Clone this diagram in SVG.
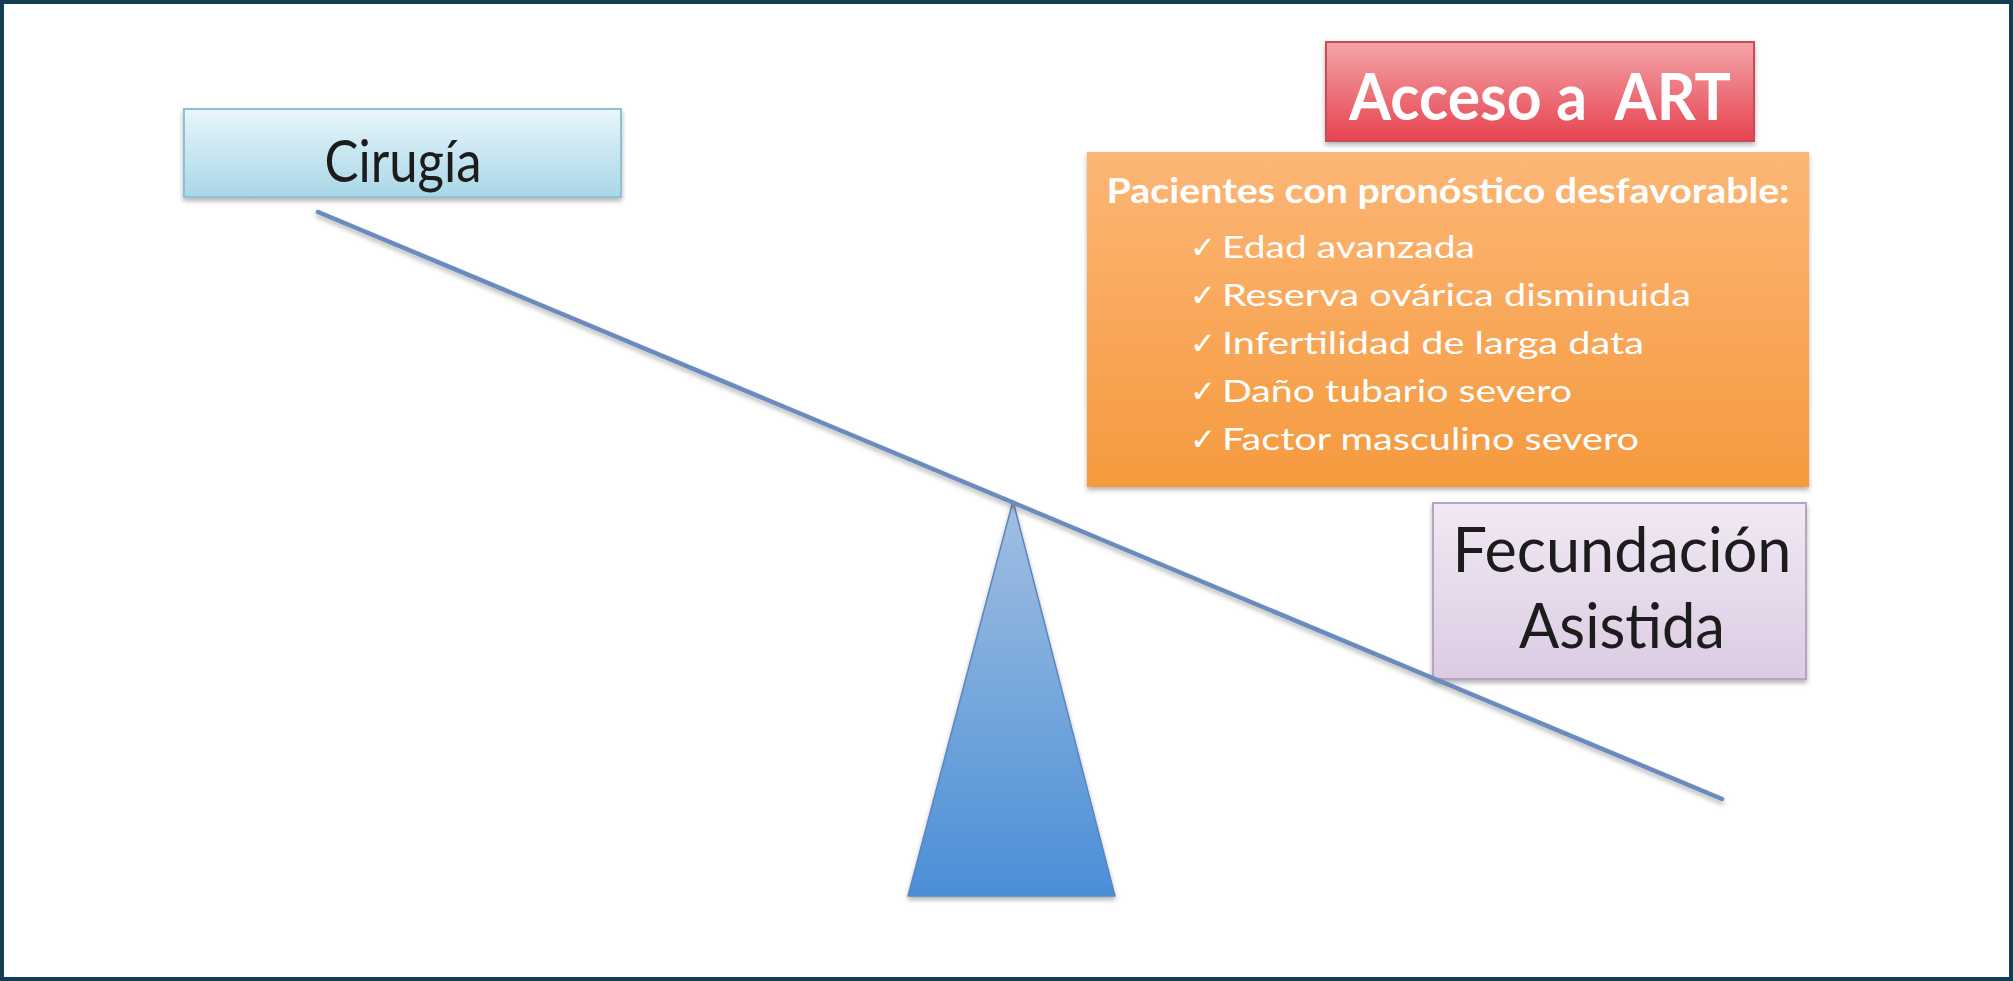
<svg xmlns="http://www.w3.org/2000/svg" width="2013" height="981" viewBox="0 0 2013 981">
<style>
.lato{font-family:Lato,"Open Sans","Liberation Sans",sans-serif}
.white{fill:#ffffff}
.dark{fill:#1c1c1c}
.ck{font-family:"DejaVu Sans",sans-serif;font-size:31px;font-weight:bold;fill:#ffffff}
.bl{font-family:Lato,"Open Sans","Liberation Sans",sans-serif;font-size:31px;fill:#ffffff}
</style>
<defs>
<linearGradient id="gCir" x1="0" y1="0" x2="0" y2="1">
<stop offset="0" stop-color="#e9f6fb"/><stop offset="1" stop-color="#a8d7e7"/>
</linearGradient>
<linearGradient id="gRed" x1="0" y1="0" x2="0" y2="1">
<stop offset="0" stop-color="#f3a4a9"/><stop offset="1" stop-color="#e7434f"/>
</linearGradient>
<linearGradient id="gOr" x1="0" y1="0" x2="0" y2="1">
<stop offset="0" stop-color="#fcb676"/><stop offset="1" stop-color="#f59a3e"/>
</linearGradient>
<linearGradient id="gFec" x1="0" y1="0" x2="0" y2="1">
<stop offset="0" stop-color="#f1e9f3"/><stop offset="1" stop-color="#dccbe3"/>
</linearGradient>
<linearGradient id="gTri" x1="0" y1="0" x2="0" y2="1">
<stop offset="0" stop-color="#a2bfe2"/><stop offset="1" stop-color="#4a8fd6"/>
</linearGradient>
<filter id="sh" x="-5%" y="-10%" width="110%" height="130%">
<feDropShadow dx="0" dy="3" stdDeviation="2.5" flood-color="#000" flood-opacity="0.3"/>
</filter>
</defs>
<rect x="0" y="0" width="2013" height="981" fill="#ffffff"/>
<rect id="frame" x="2" y="2" width="2009" height="977" fill="none" stroke="#143d52" stroke-width="4"/>

<g id="fulcrum">
<polygon points="1013,501 1115,896 908,896" fill="url(#gTri)" stroke="#5b86bd" stroke-width="1.5" stroke-linejoin="round" filter="url(#sh)"/>
</g>

<g id="node-cirugia">
<rect x="184" y="109" width="437" height="88" fill="url(#gCir)" stroke="#8cc2d4" stroke-width="2" filter="url(#sh)"/>
<text class="lato dark" x="403" y="182" font-size="58" text-anchor="middle" textLength="157" lengthAdjust="spacingAndGlyphs">Cirugía</text>
</g>

<g id="node-acceso">
<rect x="1326" y="42" width="428" height="99" fill="url(#gRed)" stroke="#c94c58" stroke-width="2" filter="url(#sh)"/>
<text class="lato white" x="1540" y="120" font-size="65" font-weight="bold" text-anchor="middle" textLength="382" lengthAdjust="spacingAndGlyphs" xml:space="preserve" style="white-space:pre">Acceso a  ART</text>
</g>

<g id="node-pacientes">
<rect x="1087" y="152" width="722" height="335" fill="url(#gOr)" filter="url(#sh)"/>
<text class="lato white" x="1448" y="203" font-size="35" font-weight="bold" text-anchor="middle" textLength="683" lengthAdjust="spacingAndGlyphs">Pacientes con pronóstico desfavorable:</text>
<text class="bl" y="258"><tspan class="ck" x="1190">✓</tspan><tspan x="1222" textLength="253" lengthAdjust="spacingAndGlyphs">Edad avanzada</tspan></text>
<text class="bl" y="306"><tspan class="ck" x="1190">✓</tspan><tspan x="1222" textLength="469" lengthAdjust="spacingAndGlyphs">Reserva ovárica disminuida</tspan></text>
<text class="bl" y="354"><tspan class="ck" x="1190">✓</tspan><tspan x="1222" textLength="422" lengthAdjust="spacingAndGlyphs">Infertilidad de larga data</tspan></text>
<text class="bl" y="402"><tspan class="ck" x="1190">✓</tspan><tspan x="1222" textLength="350" lengthAdjust="spacingAndGlyphs">Daño tubario severo</tspan></text>
<text class="bl" y="450"><tspan class="ck" x="1190">✓</tspan><tspan x="1222" textLength="417" lengthAdjust="spacingAndGlyphs">Factor masculino severo</tspan></text>
</g>

<g id="node-fecundacion">
<rect x="1433" y="503" width="373" height="176" fill="url(#gFec)" stroke="#b9a3c3" stroke-width="2" filter="url(#sh)"/>
<text class="lato dark" x="1622" y="572" font-size="62" text-anchor="middle" textLength="339" lengthAdjust="spacingAndGlyphs">Fecundación</text>
<text class="lato dark" x="1622" y="648" font-size="62" text-anchor="middle" textLength="206" lengthAdjust="spacingAndGlyphs">Asistida</text>
</g>

<g id="connectors">
<line x1="318" y1="212" x2="1722" y2="799" stroke="#6a8bbd" stroke-width="4.5" stroke-linecap="round" filter="url(#sh)"/>
</g>
</svg>
